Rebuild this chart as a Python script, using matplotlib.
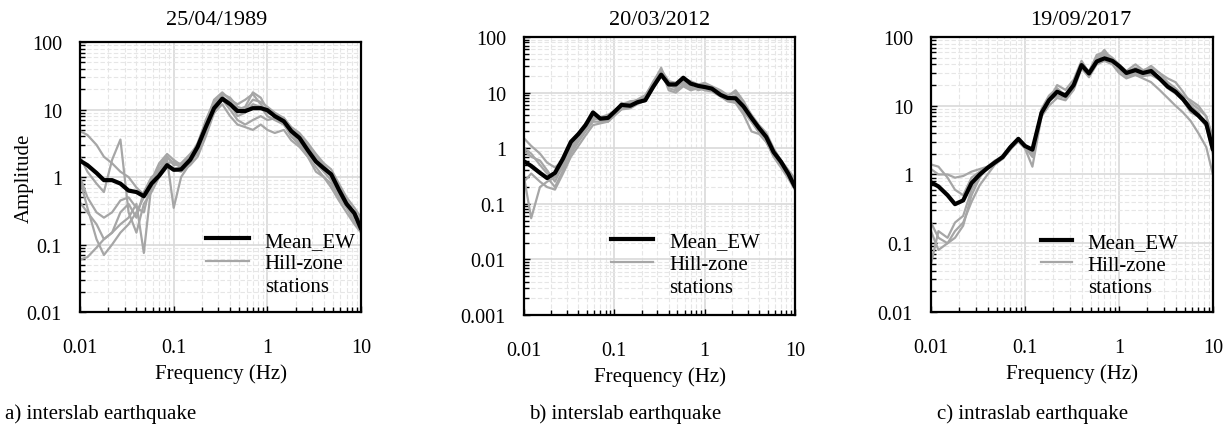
import numpy as np
import matplotlib
matplotlib.use("Agg")
import matplotlib.pyplot as plt
from matplotlib.ticker import LogLocator, FuncFormatter, NullFormatter
from matplotlib.lines import Line2D

plt.rcParams["font.family"] = ["Liberation Serif", "DejaVu Serif"]

# frequency grids (Hz)
freq_mean = [0.010, 0.012, 0.015, 0.018, 0.022, 0.027, 0.033, 0.040, 0.048, 0.058,
             0.070, 0.085, 0.10, 0.12, 0.15, 0.18, 0.22, 0.27, 0.33, 0.40, 0.48,
             0.58, 0.70, 0.85, 1.0, 1.2, 1.5, 1.8, 2.2, 2.7, 3.3, 4.0, 4.8, 5.8,
             7.0, 8.5, 10]
freq_sta = freq_mean

titles = ["25/04/1989", "20/03/2012", "19/09/2017"]
captions = ["a) interslab earthquake", "b) interslab earthquake", "c) intraslab earthquake"]

# 25/04/1989
mean_a = [1.75, 1.5, 1.15, 0.9, 0.9, 0.8, 0.63, 0.6, 0.52, 0.8, 1.05, 1.5, 1.28, 1.3, 1.8,
          2.8, 5.5, 10.5, 14.5, 12, 9.5, 9.5, 10.5, 10.5, 9.8, 8, 6.7, 4.8, 3.8, 2.5, 1.7,
          1.35, 1.1, 0.65, 0.4, 0.29, 0.17]
sta_a = [
    [4.8, 4.2, 3.0, 2.0, 1.6, 1.2, 1.0, 0.7, 0.55, 0.9, 1.3, 2.0, 1.5, 1.6, 2.2, 3.0, 7.0, 13, 16, 12,
     8, 9, 12, 11, 8, 7, 6, 4.5, 3.2, 2.2, 1.6, 1.2, 0.9, 0.55, 0.38, 0.25, 0.2],
    [1.0, 0.5, 0.3, 0.25, 0.3, 0.45, 0.5, 0.35, 0.3, 0.9, 1.6, 2.2, 1.8, 1.5, 1.6, 2.4, 4.5, 11, 17, 15,
     11, 10, 14, 13, 11, 9, 7.5, 5.5, 4.5, 3.2, 2.2, 1.6, 1.3, 0.8, 0.5, 0.35, 0.25],
    [0.42, 0.3, 0.2, 0.12, 0.15, 0.3, 0.4, 0.25, 0.6, 1.0, 1.2, 1.8, 0.35, 1.0, 1.6, 2.5, 5.5, 9, 12, 8,
     6, 5.5, 5, 6, 5, 4.5, 5, 3.5, 2.8, 2.0, 1.2, 1.0, 0.7, 0.45, 0.3, 0.2, 0.15],
    [0.06, 0.065, 0.09, 0.12, 0.15, 0.2, 0.25, 0.4, 0.075, 0.8, 1.5, 2.0, 1.6, 1.4, 1.8, 2.2, 6, 12, 15, 13,
     10, 11, 18, 15, 10, 8, 7, 5, 4, 2.6, 1.8, 1.4, 1.0, 0.6, 0.4, 0.28, 0.2],
    [2.0, 1.2, 0.8, 0.6, 1.8, 3.6, 0.3, 0.15, 0.4, 0.6, 1.0, 1.4, 1.3, 1.2, 1.5, 2.0, 4.0, 9, 14, 10,
     7, 6, 7, 8, 7, 7.5, 6, 4, 3, 2.0, 1.4, 1.0, 0.8, 0.5, 0.35, 0.22, 0.16],
    [0.9, 0.35, 0.12, 0.07, 0.1, 0.15, 0.2, 0.3, 0.5, 0.7, 1.1, 1.6, 1.7, 1.5, 2.0, 3.2, 6.5, 14, 18, 14,
     12, 14, 17, 12, 9, 8, 7.5, 5.2, 4.2, 3.0, 2.0, 1.5, 1.1, 0.7, 0.45, 0.3, 0.22],
]

# 20/03/2012
mean_b = [0.58, 0.48, 0.36, 0.29, 0.36, 0.65, 1.3, 1.8, 2.6, 4.4, 3.4, 3.5, 4.5, 6.0, 5.8,
          6.7, 7.3, 12.8, 21, 14, 14, 18.5, 14.5, 13.2, 12.6, 11.8, 9.1, 8, 7.9, 5.6, 3.5,
          2.3, 1.6, 0.85, 0.57, 0.34, 0.2]
sta_b = [
    [1.5, 1.1, 0.8, 0.55, 0.45, 0.6, 1.2, 1.8, 2.8, 3.6, 3.5, 3.4, 4.8, 5.5, 6.5, 7.5, 9, 15, 28, 12,
     11, 14, 12, 12, 13, 12, 10, 8, 9, 6, 3.8, 2.2, 1.4, 0.8, 0.55, 0.35, 0.22],
    [0.3, 0.055, 0.2, 0.25, 0.3, 0.45, 0.9, 1.5, 2.5, 3.8, 3.2, 3.0, 4.0, 5.0, 6.0, 6.5, 7.5, 14, 25, 11,
     10, 13, 11, 12, 11, 10.5, 8.5, 7, 7, 4.5, 3.0, 1.9, 1.3, 0.75, 0.5, 0.3, 0.18],
    [0.9, 0.7, 0.6, 0.4, 0.25, 0.5, 1.0, 1.5, 2.2, 3.4, 3.3, 3.6, 4.2, 5.8, 5.5, 7.0, 8.0, 14, 22, 14,
     12, 17, 15, 13, 14, 12, 10, 8.5, 11, 7.0, 3.8, 2.4, 1.7, 0.9, 0.6, 0.4, 0.28],
    [0.6, 0.45, 0.35, 0.3, 0.2, 0.4, 0.8, 1.3, 2.0, 3.0, 3.0, 3.2, 4.4, 6.5, 6.0, 6.5, 7.0, 12, 20, 13,
     13, 15, 13, 11, 12, 11, 9.5, 7.5, 8.5, 5.0, 3.0, 2.0, 1.5, 0.8, 0.5, 0.3, 0.2],
    [0.25, 0.35, 0.25, 0.2, 0.18, 0.35, 0.7, 1.1, 1.7, 2.6, 2.8, 3.0, 3.8, 5.0, 5.2, 6.2, 7.2, 13, 24, 15,
     14, 16, 12, 12, 12.5, 11.5, 9, 7, 6.5, 4.0, 2.0, 1.8, 1.3, 0.7, 0.45, 0.28, 0.18],
    [1.0, 0.8, 0.5, 0.35, 0.3, 0.55, 1.1, 1.7, 2.4, 3.2, 3.6, 4.0, 4.6, 6.0, 7.0, 7.2, 8.5, 16, 26, 16,
     15, 18, 16, 14, 15, 13, 11, 9, 10, 6.5, 4.0, 2.6, 1.9, 1.0, 0.6, 0.38, 0.25],
]

# 19/09/2017
mean_c = [0.77, 0.67, 0.5, 0.37, 0.42, 0.75, 1.0, 1.25, 1.5, 1.8, 2.5, 3.3, 2.6, 2.3, 7.9,
          12, 16, 14, 20, 39, 29.5, 44, 49, 45, 38, 30, 33, 30, 32, 25, 19, 16, 12.5, 9,
          7.2, 5.5, 2.3]
sta_c = [
    [1.4, 1.3, 0.9, 0.6, 0.5, 0.9, 1.1, 1.3, 1.5, 1.9, 2.6, 3.2, 2.5, 1.8, 8, 12, 20, 17, 24, 45,
     30, 55, 60, 50, 40, 32, 40, 33, 35, 30, 22, 18, 14, 12, 10, 7, 3.5],
    [0.05, 0.15, 0.12, 0.2, 0.25, 0.6, 1.0, 1.2, 1.45, 1.7, 2.4, 3.0, 2.4, 1.3, 7, 12, 14, 13, 20, 38,
     28, 48, 65, 45, 35, 28, 28, 25, 22, 17, 13, 10, 8, 6, 4, 2.5, 1.0],
    [0.2, 0.12, 0.1, 0.12, 0.18, 0.5, 0.9, 1.3, 1.6, 1.8, 2.5, 3.2, 2.7, 2.0, 9, 14, 18, 14, 22, 40,
     32, 52, 55, 48, 33, 27, 30, 28, 30, 24, 20, 17, 13, 10, 8, 5, 2.0],
    [1.2, 1.0, 1.0, 0.9, 0.95, 1.1, 1.2, 1.3, 1.5, 1.8, 2.6, 3.4, 2.7, 2.0, 7, 10, 13, 12, 17, 35,
     26, 40, 45, 40, 30, 25, 28, 27, 28, 24, 18, 15, 12, 8, 7, 5, 2.6],
    [0.15, 0.08, 0.1, 0.15, 0.2, 0.4, 0.7, 1.0, 1.4, 1.7, 2.3, 3.1, 2.6, 2.2, 8, 13, 16, 15, 21, 42,
     31, 46, 58, 46, 38, 30, 36, 32, 38, 30, 25, 22, 16, 11, 9, 7, 3.0],
]

means = [mean_a, mean_b, mean_c]
stations = [sta_a, sta_b, sta_c]
ylims = [(0.01, 100), (0.001, 100), (0.01, 100)]

GRAY = "#a6a6a6"

fig = plt.figure(figsize=(12.31, 4.27), dpi=100)
# axes rectangles in figure fraction
rects = [[0.065, 0.267, 0.2283, 0.632],
         [0.4257, 0.26, 0.2201, 0.651],
         [0.7563, 0.267, 0.229, 0.644]]
title_x = [0.176, 0.536, 0.878]
caption_x = [0.004, 0.430, 0.761]
leg_anchor = [(0.45, 0.30), (0.32, 0.30), (0.39, 0.29)]
leg_handlelen = [2.05, 2.05, 1.5]

fmt = FuncFormatter(lambda v, p: f"{v:g}")

for i in range(3):
    ax = fig.add_axes(rects[i])
    ax.set_xscale("log")
    ax.set_yscale("log")
    ax.set_xlim(0.01, 10)
    ax.set_ylim(*ylims[i])

    for s in stations[i]:
        ax.plot(freq_sta, s, color=GRAY, lw=1.6, zorder=2, solid_joinstyle="round")
    ax.plot(freq_mean, means[i], color="black", lw=3.0, zorder=3,
            solid_joinstyle="round", solid_capstyle="round")

    ax.xaxis.set_major_locator(LogLocator(base=10, numticks=10))
    ax.yaxis.set_major_locator(LogLocator(base=10, numticks=10))
    ax.xaxis.set_minor_locator(LogLocator(base=10, subs=np.arange(2, 10), numticks=10))
    ax.yaxis.set_minor_locator(LogLocator(base=10, subs=np.arange(2, 10), numticks=10))
    ax.xaxis.set_major_formatter(fmt)
    ax.yaxis.set_major_formatter(fmt)
    ax.xaxis.set_minor_formatter(NullFormatter())
    ax.yaxis.set_minor_formatter(NullFormatter())

    ax.grid(True, which="major", color="#d9d9d9", lw=1.2, zorder=0)
    ax.grid(True, which="minor", color="#e6e6e6", lw=0.8, ls=(0, (4, 2)), zorder=0)
    ax.set_axisbelow(True)

    ax.tick_params(which="both", direction="in", top=False, right=False,
                   colors="black", labelsize=14.5)
    ax.tick_params(which="major", length=4, width=1)
    ax.tick_params(which="minor", length=3.5, width=1)
    ax.tick_params(axis="x", which="major", pad=19)
    ax.tick_params(axis="y", which="major", pad=13)
    for sp in ax.spines.values():
        sp.set_linewidth(1.6)
        sp.set_color("black")

    ax.set_xlabel("Frequency (Hz)", fontsize=15, labelpad=4)
    if i == 0:
        ax.set_ylabel("Amplitude", fontsize=15, labelpad=-5)

    handles = [Line2D([], [], color="black", lw=3.0),
               Line2D([], [], color=GRAY, lw=1.6),
               Line2D([], [], color="none")]
    ax.legend(handles, ["Mean_EW", "Hill-zone", "stations"], loc="upper left",
              bbox_to_anchor=leg_anchor[i], frameon=False, fontsize=15,
              borderpad=0, borderaxespad=0, handlelength=leg_handlelen[i],
              handletextpad=0.75, labelspacing=0.15)

    fig.text(title_x[i], 0.952, titles[i], ha="center", va="center", fontsize=16)
    fig.text(caption_x[i], 0.018, captions[i], ha="left", va="baseline", fontsize=15)

fig.savefig("out.png", dpi=100)
